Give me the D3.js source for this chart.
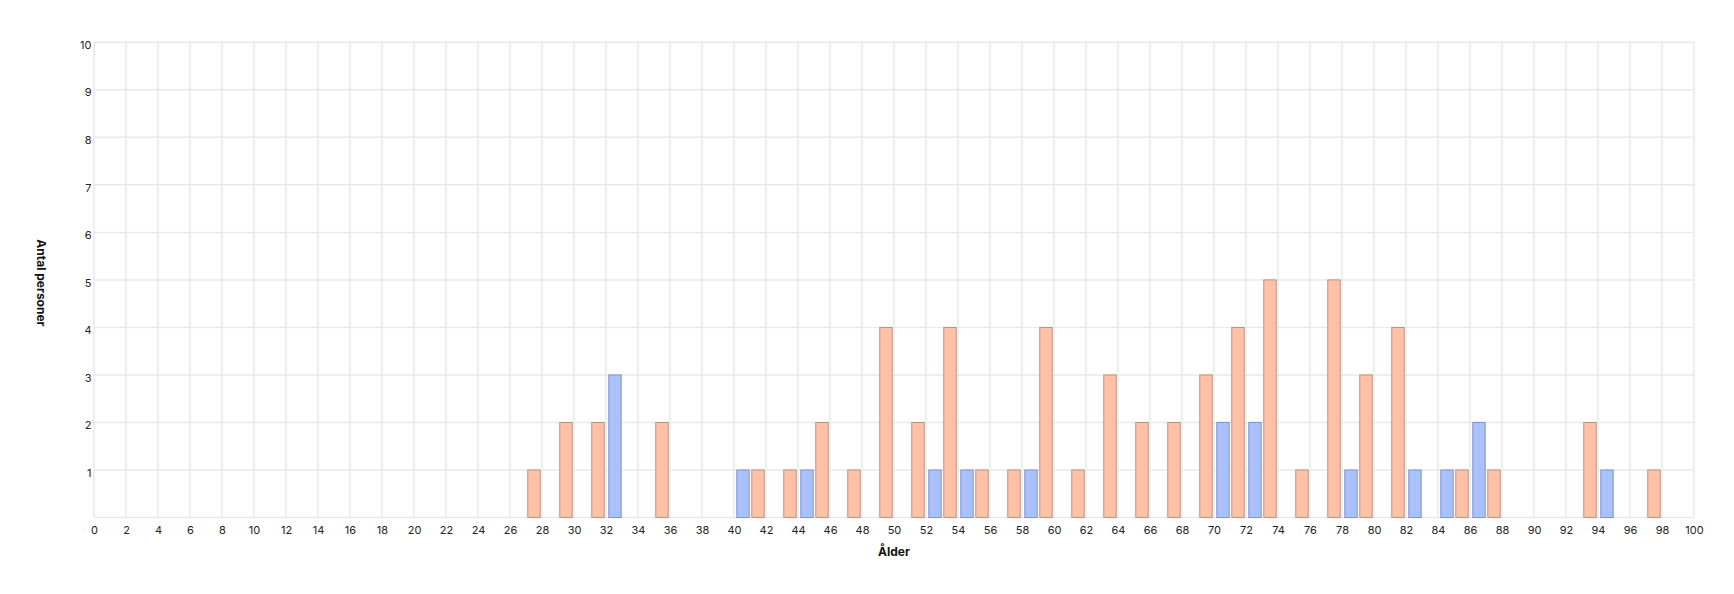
<!DOCTYPE html>
<html>
<head>
<meta charset="utf-8">
<script src="https://cdn.jsdelivr.net/npm/d3@7"></script>
<style>
  html, body { margin: 0; padding: 0; background: #fff; }
  svg { display: block; font-family: Inter, "Noto Sans", sans-serif; }
</style>
</head>
<body>
<svg id="chart" width="1734" height="594"></svg>
<script>
// Data
const orangeAges   = [27, 29, 31, 35, 41, 43, 45, 47, 49, 51, 53, 55, 57, 59, 61, 63, 65, 67, 69, 71, 73, 75, 77, 79, 81, 85, 87, 93, 97];
const orangeCounts = [ 1,  2,  2,  2,  1,  1,  2,  1,  4,  2,  4,  1,  1,  4,  1,  3,  2,  2,  3,  4,  5,  1,  5,  3,  4,  1,  1,  2,  1];
const blueAges     = [32, 40, 44, 52, 54, 58, 70, 72, 78, 82, 84, 86, 94];
const blueCounts   = [ 3,  1,  1,  1,  1,  1,  2,  2,  1,  1,  1,  2,  1];
const xTickValues  = d3.range(0, 101, 2);
const yTickValues  = [1, 2, 3, 4, 5, 6, 7, 8, 9, 10];
const xTitle = "Ålder";
const yTitle = "Antal personer";

const svg = d3.select("#chart");
const margin = { left: 94, right: 40, top: 42.3, bottom: 76.5 };
const W = 1734, H = 594;

const x = d3.scaleLinear().domain([0, 100]).range([margin.left, W - margin.right]);
const y = d3.scaleLinear().domain([0, 10]).range([H - margin.bottom, margin.top]);

const gridColor = "#e9e9e9";

// vertical grid
svg.append("g").selectAll("line").data(xTickValues).join("line")
  .attr("x1", d => x(d)).attr("x2", d => x(d))
  .attr("y1", y(10)).attr("y2", y(0))
  .attr("stroke", gridColor).attr("stroke-width", 1.5);

// horizontal grid
svg.append("g").selectAll("line").data([0].concat(yTickValues)).join("line")
  .attr("x1", x(0)).attr("x2", x(100))
  .attr("y1", d => y(d)).attr("y2", d => y(d))
  .attr("stroke", gridColor).attr("stroke-width", 1.5);

// x axis labels
const xAxis = d3.axisBottom(x).tickValues(xTickValues).tickSize(0).tickPadding(0).tickFormat(d3.format("d"));
const gx = svg.append("g").attr("transform", `translate(0,${y(0)})`).call(xAxis);
gx.select(".domain").remove();
gx.selectAll("text").attr("y", 12.5).attr("dy", "0.32em")
  .attr("font-size", 11).attr("fill", "#222").attr("font-family", "Inter, sans-serif");

// y axis labels
const yAxis = d3.axisLeft(y).tickValues(yTickValues).tickSize(0).tickPadding(0).tickFormat(d3.format("d"));
const gy = svg.append("g").attr("transform", `translate(${x(0) - 2.5},0)`).call(yAxis);
gy.select(".domain").remove();
gy.selectAll("text").attr("x", 0).attr("dy", "0.65em").attr("y", -1)
  .attr("font-size", 11).attr("fill", "#222").attr("font-family", "Inter, sans-serif");

// bars
const bw = x(1) - x(0);
const orange = orangeAges.map((a, i) => ({ age: a, v: orangeCounts[i] }));
const blue = blueAges.map((a, i) => ({ age: a, v: blueCounts[i] }));

svg.append("g").selectAll("rect").data(orange).join("rect")
  .attr("x", d => x(d.age) + 1.8).attr("width", bw - 3.6)
  .attr("y", d => y(d.v)).attr("height", d => y(0) - y(d.v))
  .attr("fill", "#ffc2a9").attr("stroke", "#c48c79").attr("stroke-width", 1);

svg.append("g").selectAll("rect").data(blue).join("rect")
  .attr("x", d => x(d.age) + 2.8).attr("width", bw - 3.6)
  .attr("y", d => y(d.v)).attr("height", d => y(0) - y(d.v))
  .attr("fill", "#a9c1fd").attr("stroke", "#7b93d2").attr("stroke-width", 1);

// titles
svg.append("text").attr("x", (x(0) + x(100)) / 2).attr("y", 552).attr("dy", "0.35em")
  .attr("text-anchor", "middle").attr("font-size", 12).attr("font-weight", "bold")
  .attr("fill", "#111").text(xTitle);

svg.append("text")
  .attr("transform", `translate(41.5,${(y(0) + y(10)) / 2 + 3}) rotate(90)`)
  .attr("text-anchor", "middle").attr("dy", "0.35em")
  .attr("font-size", 12).attr("font-weight", "bold").attr("fill", "#111").text(yTitle);
</script>
</body>
</html>
